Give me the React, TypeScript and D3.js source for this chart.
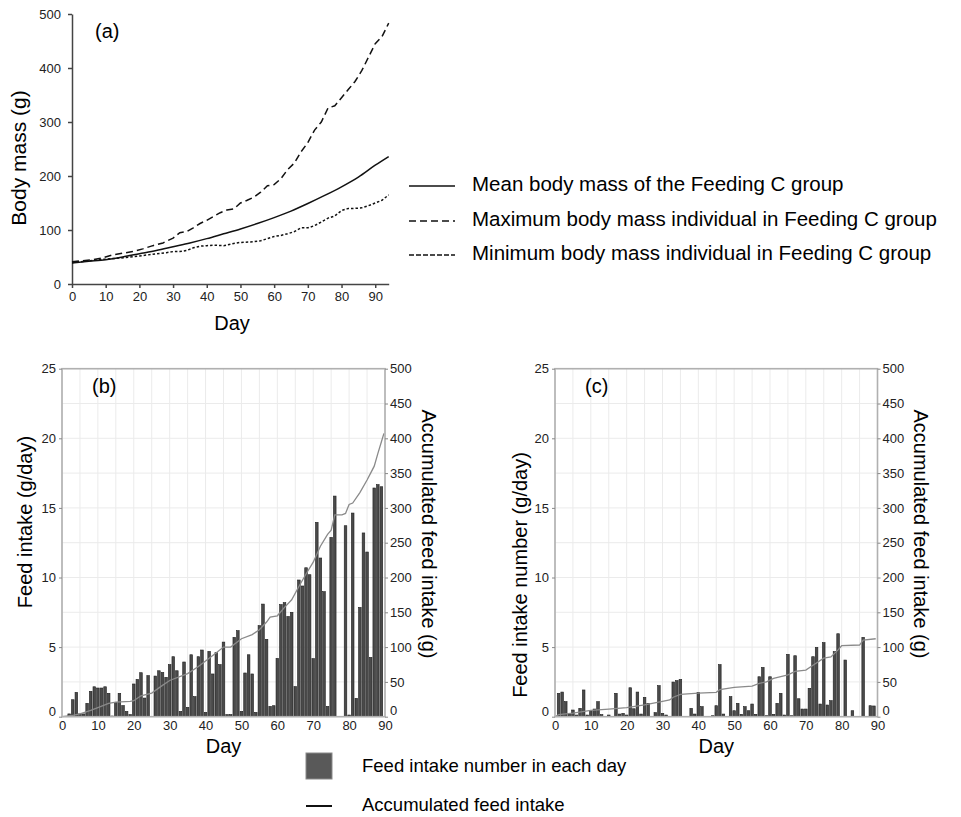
import { useEffect, useRef } from 'react';
import * as d3 from 'd3';

// ---- panel (a): body mass ----
const meanDays = [0, 5, 10, 15, 20, 25, 30, 35, 40, 45, 50, 55, 60, 65, 70, 75, 80, 85, 90, 94];
const meanMass = [39, 42, 45, 50, 56, 62, 69, 76, 84, 93, 102, 112, 123, 135, 149, 164, 180, 198, 220, 236];

const maxDays = [0, 3, 6, 9, 12, 15, 18, 21, 24, 27, 30, 32, 34, 36, 38, 40, 42, 44, 46, 48, 50, 52, 54, 56, 58, 60, 62, 64, 66, 68, 70, 72, 74, 76, 78, 80, 82, 84, 86, 88, 90, 92, 94];
const maxMass = [41, 43, 45, 48, 54, 57, 60, 65, 71, 76, 85, 95, 97, 104, 112, 118, 125, 132, 137, 139, 150, 155, 161, 170, 182, 184, 195, 212, 224, 245, 262, 285, 300, 326, 330, 345, 360, 375, 395, 420, 445, 458, 483];

const minDays = [0, 4, 8, 12, 16, 20, 24, 28, 30, 32, 34, 36, 38, 40, 42, 45, 48, 50, 53, 56, 58, 60, 62, 64, 66, 68, 70, 72, 74, 76, 78, 80, 82, 84, 86, 88, 90, 92, 94];
const minMass = [40, 42, 45, 47, 49, 52, 55, 58, 60, 60, 62, 67, 70, 71, 72, 71, 75, 77, 78, 80, 84, 88, 90, 93, 97, 104, 104, 108, 115, 122, 126, 136, 140, 140, 141, 145, 150, 155, 165];

const massTicks = [0, 100, 200, 300, 400, 500];
const dayTicks = [0, 10, 20, 30, 40, 50, 60, 70, 80, 90];

const massLegend = [
  'Mean body mass of the Feeding C group',
  'Maximum body mass individual in Feeding C group',
  'Minimum body mass individual in Feeding C group',
];

// ---- panels (b) and (c): daily intake, days 1..89 ----
const barDays = d3.range(1, 90);
const feedB = [0, 0.2, 1.22, 1.75, 0.2, 0.2, 0.96, 1.82, 2.15, 2.06, 2.06, 2.15, 1.68, 0.05, 1.03, 1.68, 0.8, 0.38, 0.15, 2.35,
  2.68, 3.16, 1.34, 2.95, 0, 2.92, 3.3, 3.18, 2.83, 3.74, 4.31, 3.3, 0.38, 3.93, 0.67, 4.45, 1.44, 4.31, 4.79, 0.31,
  4.69, 3.07, 4.6, 3.74, 5.36, 0.15, 0.15, 5.7, 6.18, 0.38, 3.14, 4.45, 3.07, 0.31, 6.54, 8.09, 5.56, 0.74, 0.79, 4.19,
  8.05, 8.19, 7.2, 7.5, 2.16, 9.82, 9.39, 10.7, 10.2, 4.17, 13.96, 11.4, 8.98, 0.74, 12.88, 15.85, 0, 0, 13.72, 0.12,
  14.63, 1.32, 7.85, 13.2, 11.83, 4.26, 16.43, 16.67, 16.52];
const feedC = [1.68, 1.77, 1.08, 0.19, 0.48, 0.12, 0.6, 1.92, 0.12, 0.43, 0.55, 1.08, 0.15, 0, 0.12, 0, 1.68, 0.19, 0.24, 0.12,
  2.08, 0.57, 1.77, 0.19, 1.39, 0.96, 0, 0.29, 2.23, 0.24, 0.12, 0, 2.49, 2.59, 2.68, 0, 0, 0.6, 0.19, 1.75,
  0.72, 0, 0, 0.07, 0.79, 3.74, 0.19, 0, 1.44, 0.43, 0.96, 0.17, 0.72, 0.43, 0.91, 0.17, 2.87, 3.54, 0.07, 2.87,
  0.17, 0.96, 1.68, 0.12, 4.48, 0.07, 4.38, 1.29, 0.55, 0.55, 2.04, 4.31, 4.98, 0.91, 5.32, 0.84, 1.15, 4.67, 5.96, 0,
  4.07, 0, 0.43, 0, 0, 5.7, 0, 0.79, 0.77];

const accDaysB = [0, 3, 5, 8, 10, 13, 15, 19, 20, 22, 25, 28, 30, 33, 35, 38, 40, 43, 45, 47, 50, 53, 55, 57, 58, 60, 62, 64, 66, 68, 70, 72, 74, 75, 76, 78, 79, 80, 81, 83, 85, 86, 87, 88, 89, 89.7];
const accB = [0, 2, 4, 9, 13, 19, 21, 22, 23, 30, 34, 45, 52, 58, 62, 72, 80, 92, 100, 100, 112, 118, 125, 136, 143, 145, 157, 168, 187, 205, 222, 245, 262, 268, 290, 290, 292, 305, 307, 322, 340, 350, 360, 378, 395, 407];

const accDaysC = [0, 1, 5, 10, 15, 20, 25, 30, 32, 33, 35, 40, 45, 46, 50, 55, 57, 59, 61, 65, 67, 70, 72, 75, 77, 79, 80, 85, 86, 89.5];
const accC = [0, 3, 5, 9, 11, 13, 17, 22, 24, 28, 32, 34, 35, 39, 42, 44, 48, 50, 55, 60, 65, 67, 74, 84, 86, 96, 102, 103, 110, 112];

const leftTicks = [0, 5, 10, 15, 20, 25];
const rightTicks = [0, 50, 100, 150, 200, 250, 300, 350, 400, 450, 500];

const font = "Arial, 'Liberation Sans', sans-serif";

const drawMass = (svg) => {
  const x = d3.scaleLinear().domain([0, 94]).range([72, 388.7]);
  const y = d3.scaleLinear().domain([0, 500]).range([284, 14]);

  const g = svg.append('g');

  const yAxis = g.append('g').attr('transform', 'translate(72,0)')
    .call(d3.axisLeft(y).tickValues(massTicks).tickSize(4).tickSizeOuter(0).tickPadding(7));
  const xAxis = g.append('g').attr('transform', 'translate(0,284)')
    .call(d3.axisBottom(x).tickValues(dayTicks).tickSize(4).tickSizeOuter(0).tickPadding(4));
  [yAxis, xAxis].forEach((a) => {
    a.selectAll('path, line').attr('stroke', '#444').attr('stroke-width', 1.5);
    a.selectAll('text').attr('fill', '#222').style('font-size', '13px').style('font-family', font);
  });

  const series = [
    { days: meanDays, vals: meanMass, dash: null, curve: d3.curveMonotoneX },
    { days: maxDays, vals: maxMass, dash: '7,4', curve: d3.curveLinear },
    { days: minDays, vals: minMass, dash: '2.5,2', curve: d3.curveLinear },
  ];
  series.forEach((s) => {
    const line = d3.line().x((d) => x(d[0])).y((d) => y(d[1])).curve(s.curve);
    g.append('path')
      .attr('d', line(s.days.map((d, i) => [d, s.vals[i]])))
      .attr('fill', 'none')
      .attr('stroke', '#111')
      .attr('stroke-width', 1.5)
      .attr('stroke-dasharray', s.dash);
  });

  g.append('text').attr('x', 95).attr('y', 33).attr('dominant-baseline', 'middle')
    .style('font-size', '20px').style('font-family', font).text('(a)');
  g.append('text').attr('transform', 'translate(20,158) rotate(-90)').attr('text-anchor', 'middle')
    .attr('dominant-baseline', 'middle').style('font-size', '21px').style('font-family', font).text('Body mass (g)');
  g.append('text').attr('x', 232).attr('y', 325).attr('text-anchor', 'middle').attr('dominant-baseline', 'middle')
    .style('font-size', '20px').style('font-family', font).text('Day');

  // legend
  const ly = [186, 221, 255];
  const dashes = [null, '7,4', '5,2'];
  massLegend.forEach((t, i) => {
    g.append('line').attr('x1', 409).attr('x2', 455).attr('y1', ly[i]).attr('y2', ly[i])
      .attr('stroke', '#111').attr('stroke-width', 1.6).attr('stroke-dasharray', dashes[i]);
    g.append('text').attr('x', 472).attr('y', ly[i]).attr('dominant-baseline', 'middle')
      .style('font-size', '20.5px').style('font-family', font).text(t);
  });
};

const drawFeed = (svg, opt) => {
  const x = d3.scaleLinear().domain([0, 90]).range([opt.left, opt.right]);
  const yL = d3.scaleLinear().domain([0, 25]).range([716.7, 368.7]);
  const yR = d3.scaleLinear().domain([0, 500]).range([716.7, 368.7]);
  const g = svg.append('g');

  // grid
  g.append('g').selectAll('line').data(d3.range(0, 91, 5)).enter().append('line')
    .attr('x1', (d) => x(d)).attr('x2', (d) => x(d)).attr('y1', yL(0)).attr('y2', yL(25))
    .attr('stroke', '#ebebeb').attr('stroke-width', 1);
  g.append('g').selectAll('line').data(d3.range(0, 25.1, 2.5)).enter().append('line')
    .attr('x1', x(0)).attr('x2', x(90)).attr('y1', (d) => yL(d)).attr('y2', (d) => yL(d))
    .attr('stroke', '#ebebeb').attr('stroke-width', 1);

  // bars
  g.append('g').selectAll('rect').data(barDays).enter().append('rect')
    .attr('x', (d) => x(d) - 1.3)
    .attr('y', (d, i) => yL(opt.bars[i]))
    .attr('width', 2.6)
    .attr('height', (d, i) => yL(0) - yL(opt.bars[i]))
    .attr('fill', '#4a4a4a')
    .attr('stroke', '#1e1e1e')
    .attr('stroke-width', 0.6);

  // accumulated line
  const line = d3.line().x((d) => x(d[0])).y((d) => yR(d[1]));
  g.append('path')
    .attr('d', line(opt.accDays.map((d, i) => [d, opt.acc[i]])))
    .attr('fill', 'none').attr('stroke', '#8a8a8a').attr('stroke-width', 1.3);

  // frame
  g.append('rect').attr('x', x(0)).attr('y', yL(25)).attr('width', x(90) - x(0)).attr('height', yL(0) - yL(25))
    .attr('fill', 'none').attr('stroke', '#b0b0b0').attr('stroke-width', 1.6);

  const la = g.append('g').attr('transform', `translate(${x(0)},0)`)
    .call(d3.axisLeft(yL).tickValues(leftTicks).tickSize(3).tickSizeOuter(0).tickPadding(3));
  const ra = g.append('g').attr('transform', `translate(${x(90)},0)`)
    .call(d3.axisRight(yR).tickValues(rightTicks).tickSize(3).tickSizeOuter(0).tickPadding(2));
  const ba = g.append('g').attr('transform', `translate(0,${yL(0)})`)
    .call(d3.axisBottom(x).tickValues(dayTicks).tickSize(0).tickSizeOuter(0).tickPadding(4));
  [la, ra, ba].forEach((a) => {
    a.select('.domain').remove();
    a.selectAll('line').attr('stroke', '#888');
    a.selectAll('text').attr('fill', '#222').style('font-size', '13px').style('font-family', font);
  });
  // the zero labels sit raised, as in the original
  la.selectAll('text').filter((d) => d === 0).attr('dy', '-0.1em');
  ra.selectAll('text').filter((d) => d === 0).attr('dy', '-0.15em');

  g.append('text').attr('x', opt.left + 30).attr('y', 388).attr('dominant-baseline', 'middle')
    .style('font-size', '20px').style('font-family', font).text(opt.tag);
  g.append('text').attr('transform', `translate(${opt.leftTitleX},${opt.leftTitleY}) rotate(-90)`)
    .attr('text-anchor', 'middle').attr('dominant-baseline', 'middle')
    .style('font-size', '20px').style('font-family', font).text(opt.leftTitle);
  g.append('text').attr('transform', `translate(${opt.right + 42},534) rotate(90)`)
    .attr('text-anchor', 'middle').attr('dominant-baseline', 'middle')
    .style('font-size', '20px').style('font-family', font).text('Accumulated feed intake (g)');
  g.append('text').attr('x', (x(0) + x(90)) / 2).attr('y', 748).attr('text-anchor', 'middle')
    .attr('dominant-baseline', 'middle').style('font-size', '20px').style('font-family', font).text('Day');
};

const drawLegend = (svg) => {
  const g = svg.append('g');
  g.append('rect').attr('x', 306).attr('y', 753).attr('width', 26).attr('height', 26)
    .attr('fill', '#595959').attr('stroke', '#8a8a8a').attr('stroke-width', 1);
  g.append('text').attr('x', 362).attr('y', 767).attr('dominant-baseline', 'middle')
    .style('font-size', '18.5px').style('font-family', font).text('Feed intake number in each day');
  g.append('line').attr('x1', 306).attr('x2', 332).attr('y1', 806).attr('y2', 806)
    .attr('stroke', '#111').attr('stroke-width', 2);
  g.append('text').attr('x', 362).attr('y', 806).attr('dominant-baseline', 'middle')
    .style('font-size', '18.5px').style('font-family', font).text('Accumulated feed intake');
};

export default function App() {
  const ref = useRef(null);

  useEffect(() => {
    const svg = d3.select(ref.current);
    svg.selectAll('*').remove();
    drawMass(svg);
    drawFeed(svg, {
      left: 62, right: 385, bars: feedB, accDays: accDaysB, acc: accB, tag: '(b)',
      leftTitle: 'Feed intake (g/day)', leftTitleX: 27, leftTitleY: 522,
    });
    drawFeed(svg, {
      left: 555, right: 877.5, bars: feedC, accDays: accDaysC, acc: accC, tag: '(c)',
      leftTitle: 'Feed intake number (g/day)', leftTitleX: 522, leftTitleY: 575,
    });
    drawLegend(svg);
  }, []);

  return (
    <div style={{ position: 'absolute', left: 0, top: 0 }}>
      <svg ref={ref} width={961} height={817} style={{ display: 'block', background: '#fff' }} />
    </div>
  );
}
